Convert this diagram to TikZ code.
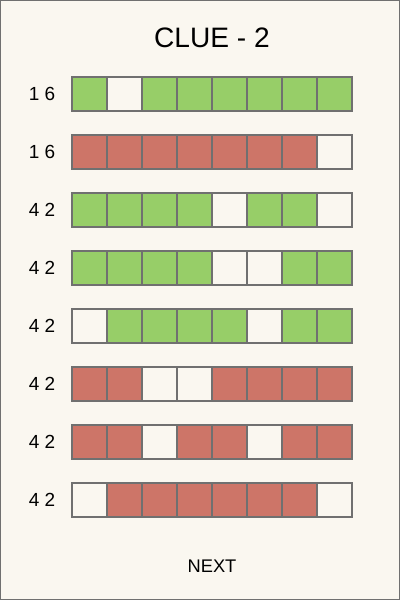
\documentclass[tikz,border=0pt]{standalone}
\usepackage{fontspec}
\setmainfont{Liberation Sans}
\usetikzlibrary{positioning}
\definecolor{cbg}{HTML}{FAF7F0}
\definecolor{cgray}{HTML}{707070}
\definecolor{cellG}{HTML}{97CE68}
\definecolor{cellR}{HTML}{CD7568}
\definecolor{cellW}{HTML}{FAF7F0}

\begin{document}
\begin{tikzpicture}[x=0.025cm, y=-0.025cm,
  cell/.style={rectangle, draw=cgray, line width=1.1pt, inner sep=0pt, outer sep=0pt,
    minimum width=0.875cm, minimum height=0.85cm},
  clue/.style={font=\fontsize{13.5}{16}\selectfont, inner sep=0pt}
]
\useasboundingbox (0,0) rectangle (400,600);
\draw[cgray, line width=1.5pt, fill=cbg] (0,0) rectangle (400,600);

\node[font=\fontsize{20}{24}\selectfont] (title) at (212,38) {CLUE - 2};

% rows of the puzzle
\foreach \row/\num/\fills in {
    1/{1 6}/{G,W,G,G,G,G,G,G},
    2/{1 6}/{R,R,R,R,R,R,R,W},
    3/{4 2}/{G,G,G,G,W,G,G,W},
    4/{4 2}/{G,G,G,G,W,W,G,G},
    5/{4 2}/{W,G,G,G,G,W,G,G},
    6/{4 2}/{R,R,W,W,R,R,R,R},
    7/{4 2}/{R,R,W,R,R,W,R,R},
    8/{4 2}/{W,R,R,R,R,R,R,W}} {
  \node[clue] (l\row) at (42,{94+58*(\row-1)}) {\num};
  \foreach \f [count=\col] in \fills
    \node[cell, fill=cell\f] (c\row-\col) at ({89.5+35*(\col-1)},{94+58*(\row-1)}) {};
}

\node[font=\fontsize{13}{16}\selectfont] (next) at (212,566) {NEXT};
\end{tikzpicture}
\end{document}
